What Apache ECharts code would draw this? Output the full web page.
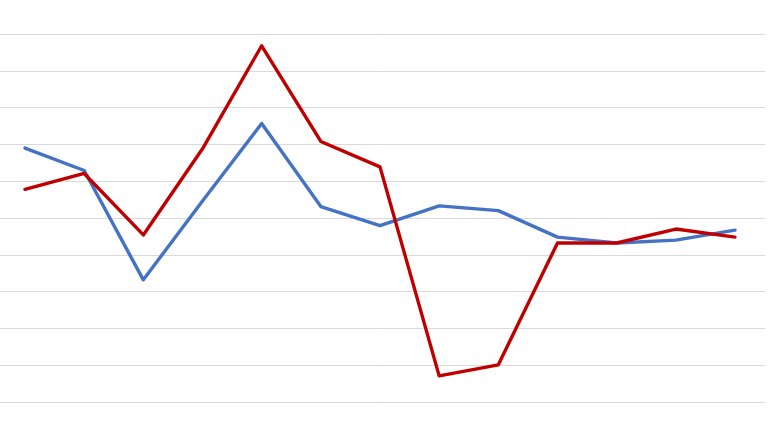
<!DOCTYPE html>
<html>
<head>
<meta charset="utf-8">
<script src="https://cdn.jsdelivr.net/npm/echarts@6/dist/echarts.min.js"></script>
<style>html,body{margin:0;padding:0;background:#fff;}#chart{width:768px;height:430px;}</style>
</head>
<body>
<div id="chart"></div>
<script>
const categories = ['1','2','3','4','5','6','7','8','9','10','11','12','13'];
const blueSeries = [6.90, 6.29, 3.32, 5.46, 7.57, 5.31, 4.79, 5.33, 5.20, 4.48, 4.32, 4.40, 4.67];
const redSeries = [5.78, 6.21, 4.54, 6.88, 9.68, 7.08, 6.39, 0.71, 1.01, 4.32, 4.32, 4.70, 4.48];

const hidden = {axisLine: {show: false}, axisTick: {show: false}, axisLabel: {show: false}};
const chart = echarts.init(document.getElementById('chart'), null, {renderer: 'canvas'});
chart.setOption({
  animation: false,
  backgroundColor: '#ffffff',
  grid: [
    {left: 25, right: 33, top: 34, bottom: 28, containLabel: false},
    {left: 0, right: 3, top: 34, bottom: 28, containLabel: false}
  ],
  xAxis: [
    Object.assign({type: 'category', data: categories, boundaryGap: false, gridIndex: 0, splitLine: {show: false}}, hidden),
    Object.assign({type: 'category', data: categories, boundaryGap: false, gridIndex: 1, splitLine: {show: false}}, hidden)
  ],
  yAxis: [
    Object.assign({type: 'value', min: 0, max: 10, interval: 1, gridIndex: 0, splitLine: {show: false}}, hidden),
    Object.assign({type: 'value', min: 0, max: 10, interval: 1, gridIndex: 1, splitLine: {show: true, lineStyle: {color: '#d9d9d9', width: 1}}}, hidden)
  ],
  series: [
    {type: 'line', xAxisIndex: 0, yAxisIndex: 0, data: blueSeries, symbol: 'none', z: 3, lineStyle: {color: '#4472C4', width: 3.4, join: 'round', cap: 'round'}, itemStyle: {color: '#4472C4'}},
    {type: 'line', xAxisIndex: 0, yAxisIndex: 0, data: redSeries, symbol: 'none', z: 4, lineStyle: {color: '#C00000', width: 3.4, join: 'round', cap: 'round'}, itemStyle: {color: '#C00000'}}
  ]
});
</script>
</body>
</html>
